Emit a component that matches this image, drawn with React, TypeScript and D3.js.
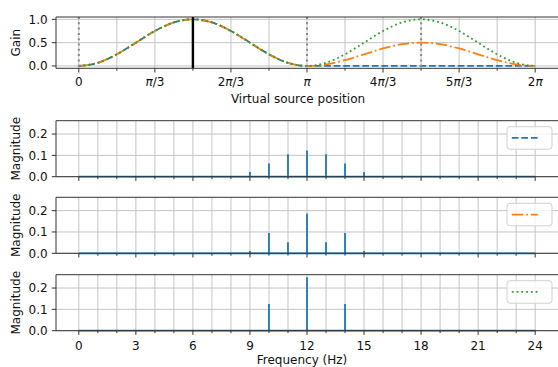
import * as d3 from 'd3';

// Virtual source position, sampled every pi/12 (0 .. 2pi)
const angleSteps = d3.range(25);
const gainBlue = [0, 0.067, 0.25, 0.5, 0.75, 0.933, 1, 0.933, 0.75, 0.5, 0.25, 0.067, 0,
  0, 0, 0, 0, 0, 0, 0, 0, 0, 0, 0, 0];
const gainOrange = [0, 0.067, 0.25, 0.5, 0.75, 0.933, 1, 0.933, 0.75, 0.5, 0.25, 0.067, 0,
  0.033, 0.125, 0.25, 0.375, 0.467, 0.5, 0.467, 0.375, 0.25, 0.125, 0.033, 0];
const gainGreen = [0, 0.067, 0.25, 0.5, 0.75, 0.933, 1, 0.933, 0.75, 0.5, 0.25, 0.067, 0,
  0.067, 0.25, 0.5, 0.75, 0.933, 1, 0.933, 0.75, 0.5, 0.25, 0.067, 0];

const piTickLabels = [['0', ''], ['', 'π/3'], ['2', 'π/3'], ['', 'π'], ['4', 'π/3'], ['5', 'π/3'], ['2', 'π']];
const dottedMarks = [0, Math.PI, 1.5 * Math.PI];
const solidMark = Math.PI / 2;

// Spectra
const frequencies = d3.range(25);
const magBlue = [0, 0, 0, 0, 0, 0, 0, 0.003, 0, 0.022, 0.062, 0.105, 0.123, 0.105, 0.062, 0.022, 0, 0.003, 0, 0, 0, 0, 0, 0, 0];
const magOrange = [0, 0, 0, 0, 0, 0, 0, 0, 0, 0.011, 0.095, 0.052, 0.186, 0.052, 0.095, 0.011, 0, 0, 0, 0, 0, 0, 0, 0, 0];
const magGreen = [0, 0, 0, 0, 0, 0, 0, 0, 0, 0, 0.125, 0, 0.25, 0, 0.125, 0, 0, 0, 0, 0, 0, 0, 0, 0, 0];
const freqTicks = [0, 3, 6, 9, 12, 15, 18, 21, 24];
const magTicks = [0, 0.1, 0.2];
const gainTicks = [0, 0.5, 1];

const C0 = '#1f77b4';
const C1 = '#ff7f0e';
const C2 = '#2ca02c';
const LW = 1.8;
const dashed = `${3.7 * LW},${1.6 * LW}`;
const dashdot = `${6.4 * LW},${1.6 * LW},${1 * LW},${1.6 * LW}`;
const dotted = `${1 * LW},${1.65 * LW}`;

const FONT = 'DejaVu Sans, sans-serif';
const GRID = '#c4c4c4';
const SPINE = '#333';

const L = 56;
const R = 558;

function Legend({ top, color, dash }: { top: number; color: string; dash: string }) {
  const right = R - 6;
  const w = 45;
  const h = 22.5;
  return (
    <g>
      <rect x={right - w} y={top} width={w} height={h} rx={3} fill="white" fillOpacity={0.8} stroke="#d0d0d0" strokeWidth={1} />
      <line x1={right - w + 4.8} x2={right - w + 30.8} y1={top + h / 2} y2={top + h / 2} stroke={color} strokeWidth={LW} strokeDasharray={dash} />
    </g>
  );
}

function Spines({ top, bottom }: { top: number; bottom: number }) {
  return (
    <g stroke={SPINE} strokeWidth={1} fill="none">
      <line x1={L} x2={R} y1={top} y2={top} />
      <line x1={L} x2={R} y1={bottom} y2={bottom} />
      <line x1={L} x2={L} y1={top} y2={bottom} />
    </g>
  );
}

function StemPanel({ top, values, color, dash }: { top: number; values: number[]; color: string; dash: string }) {
  const bottom = top + 56;
  const x = d3.scaleLinear().domain([-1.2, 25.2]).range([L, R]);
  const y = d3.scaleLinear().domain([0, 0.2625]).range([bottom, top]);
  return (
    <g>
      {frequencies.map((f) => (
        <line key={'g' + f} x1={x(f)} x2={x(f)} y1={top} y2={bottom} stroke={GRID} strokeWidth={1} />
      ))}
      {magTicks.map((t) => (
        <line key={'h' + t} x1={L} x2={R} y1={y(t)} y2={y(t)} stroke={GRID} strokeWidth={1} />
      ))}
      {frequencies.map((f, i) => (
        <line key={'s' + f} x1={x(f)} x2={x(f)} y1={y(0)} y2={y(values[i])} stroke={C0} strokeWidth={LW} />
      ))}
      <line x1={x(0)} x2={x(24)} y1={y(0)} y2={y(0)} stroke={C0} strokeWidth={LW} />
      <Spines top={top} bottom={bottom} />
      {frequencies.map((f) => {
        const major = f % 3 === 0;
        return <line key={'t' + f} x1={x(f)} x2={x(f)} y1={bottom} y2={bottom + (major ? 4.2 : 2.4)} stroke={SPINE} strokeWidth={1} />;
      })}
      {magTicks.map((t) => (
        <g key={'yt' + t}>
          <line x1={L - 4.2} x2={L} y1={y(t)} y2={y(t)} stroke={SPINE} strokeWidth={1} />
          <text x={L - 8.4} y={y(t)} dy="0.36em" textAnchor="end" fontSize={12} fontFamily={FONT} fill="#111">{t.toFixed(1)}</text>
        </g>
      ))}
      <text transform={`translate(19.5,${(top + bottom) / 2}) rotate(-90)`} textAnchor="middle" fontSize={12} fontFamily={FONT} fill="#111">Magnitude</text>
      <Legend top={top + 6} color={color} dash={dash} />
    </g>
  );
}

export default function App() {
  const gTop = 17;
  const gBottom = 68.3;
  const xa = d3.scaleLinear().domain([-0.05 * 2 * Math.PI, 1.05 * 2 * Math.PI]).range([L, R]);
  const ya = d3.scaleLinear().domain([-0.05, 1.05]).range([gBottom, gTop]);
  const angle = (k: number) => (k * Math.PI) / 12;
  const line = (vals: number[]) =>
    d3.line<number>().x((k) => xa(angle(k))).y((k) => ya(vals[k])).curve(d3.curveMonotoneX)(angleSteps) ?? '';

  const stemTops = [120.7, 197.3, 274.7];
  const xf = d3.scaleLinear().domain([-1.2, 25.2]).range([L, R]);

  return (
    <svg width={558} height={367} style={{ position: 'absolute', left: 0, top: 0, background: 'white' }}>
      {/* Gain panel */}
      {d3.range(13).map((k) => (
        <line key={'vg' + k} x1={xa((k * Math.PI) / 6)} x2={xa((k * Math.PI) / 6)} y1={gTop} y2={gBottom} stroke={GRID} strokeWidth={1} />
      ))}
      {gainTicks.map((t) => (
        <line key={'hg' + t} x1={L} x2={R} y1={ya(t)} y2={ya(t)} stroke={GRID} strokeWidth={1} />
      ))}
      <path d={line(gainBlue)} fill="none" stroke={C0} strokeWidth={LW} strokeDasharray={dashed} />
      <path d={line(gainOrange)} fill="none" stroke={C1} strokeWidth={LW} strokeDasharray={dashdot} />
      <path d={line(gainGreen)} fill="none" stroke={C2} strokeWidth={LW} strokeDasharray={dotted} />
      {dottedMarks.map((m) => (
        <line key={'dm' + m} x1={xa(m)} x2={xa(m)} y1={gTop} y2={gBottom} stroke="#888" strokeWidth={2} strokeDasharray="2,3.3" />
      ))}
      <line x1={xa(solidMark)} x2={xa(solidMark)} y1={gTop} y2={gBottom} stroke="black" strokeWidth={2.4} />
      <Spines top={gTop} bottom={gBottom} />
      {d3.range(13).map((k) => (
        <line key={'tg' + k} x1={xa((k * Math.PI) / 6)} x2={xa((k * Math.PI) / 6)} y1={gBottom} y2={gBottom + (k % 2 === 0 ? 4.2 : 2.4)} stroke={SPINE} strokeWidth={1} />
      ))}
      {piTickLabels.map(([n, p], i) => (
        <text key={'pl' + i} x={xa((i * Math.PI) / 3)} y={86} textAnchor="middle" fontSize={12} fontFamily={FONT} fill="#111">
          {n}
          {p && <tspan fontStyle="italic">π</tspan>}
          {p.slice(1)}
        </text>
      ))}
      {gainTicks.map((t) => (
        <g key={'gy' + t}>
          <line x1={L - 4.2} x2={L} y1={ya(t)} y2={ya(t)} stroke={SPINE} strokeWidth={1} />
          <text x={L - 8.4} y={ya(t)} dy="0.36em" textAnchor="end" fontSize={12} fontFamily={FONT} fill="#111">{t.toFixed(1)}</text>
        </g>
      ))}
      <text x={298} y={103.3} textAnchor="middle" fontSize={12} fontFamily={FONT} fill="#111">Virtual source position</text>
      <text transform={`translate(19.5,${(gTop + gBottom) / 2}) rotate(-90)`} textAnchor="middle" fontSize={12} fontFamily={FONT} fill="#111">Gain</text>

      {/* Spectra */}
      <StemPanel top={stemTops[0]} values={magBlue} color={C0} dash={dashed} />
      <StemPanel top={stemTops[1]} values={magOrange} color={C1} dash={dashdot} />
      <StemPanel top={stemTops[2]} values={magGreen} color={C2} dash={dotted} />
      {freqTicks.map((f) => (
        <text key={'fl' + f} x={xf(f)} y={349.5} textAnchor="middle" fontSize={12} fontFamily={FONT} fill="#111">{f}</text>
      ))}
      <text x={302} y={363.8} textAnchor="middle" fontSize={12} fontFamily={FONT} fill="#111">Frequency (Hz)</text>
    </svg>
  );
}
